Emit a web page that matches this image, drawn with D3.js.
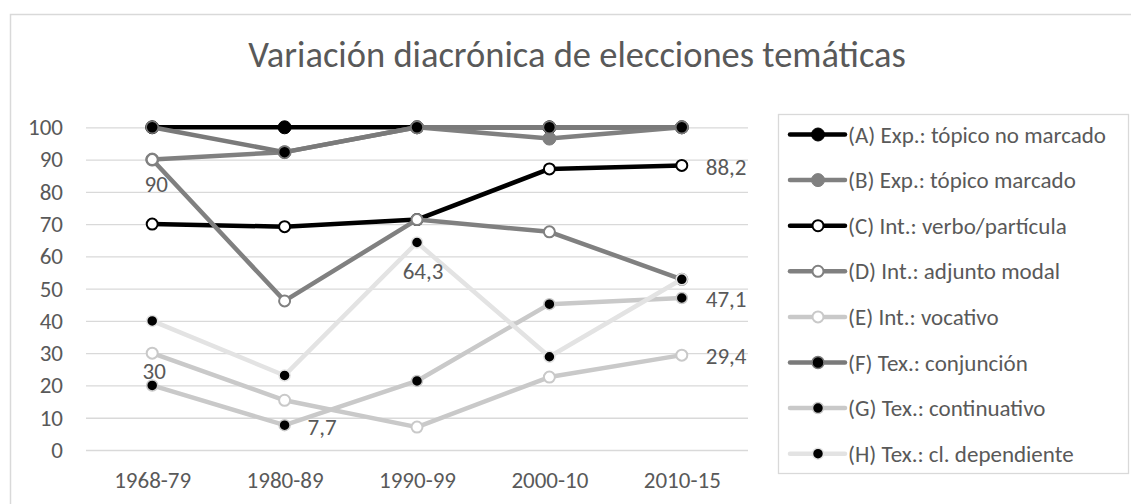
<!DOCTYPE html>
<html>
<head>
<meta charset="utf-8">
<script src="https://cdn.jsdelivr.net/npm/d3@7"></script>
<style>
  body { margin: 0; background: #fff; }
  svg { display: block; font-family: Carlito, Lato, "Liberation Sans", sans-serif; }
</style>
</head>
<body>
<svg id="chart" width="1131" height="504"></svg>
<script>
// categories and values
var categories = ["1968-79", "1980-89", "1990-99", "2000-10", "2010-15"];
var seriesNames = [
  "(A) Exp.: tópico no marcado",
  "(B) Exp.: tópico marcado",
  "(C) Int.: verbo/partícula",
  "(D) Int.: adjunto modal",
  "(E) Int.: vocativo",
  "(F) Tex.: conjunción",
  "(G) Tex.: continuativo",
  "(H) Tex.: cl. dependiente"
];
var serA = [100, 100, 100, 100, 100];
var serB = [90, 92.3, 100, 96.5, 100];
var serC = [70, 69.2, 71.4, 87.1, 88.2];
var serD = [90, 46.2, 71.4, 67.6, 52.9];
var serE = [30, 15.4, 7.1, 22.6, 29.4];
var serF = [100, 92.3, 100, 100, 100];
var serG = [20, 7.7, 21.4, 45.2, 47.1];
var serH = [40, 23.1, 64.3, 28.9, 52.9];
var yTicks = [0, 10, 20, 30, 40, 50, 60, 70, 80, 90, 100];
// data labels: series index, point index
var labelPoints = [[1, 0], [4, 0], [6, 1], [7, 2], [2, 4], [6, 4], [4, 4]];

var allSeries = [serA, serB, serC, serD, serE, serF, serG, serH];

// styling, kept apart from the values
var styles = [
  { line: "#000000", fill: "#000000", stroke: "#000000", r: 6.5, sw: 1 },
  { line: "#808080", fill: "#808080", stroke: "#808080", r: 6.5, sw: 1 },
  { line: "#000000", fill: "#ffffff", stroke: "#000000", r: 5.5, sw: 2 },
  { line: "#808080", fill: "#ffffff", stroke: "#808080", r: 5.5, sw: 2 },
  { line: "#c9c9c9", fill: "#ffffff", stroke: "#c9c9c9", r: 5.5, sw: 2 },
  { line: "#7a7a7a", fill: "#000000", stroke: "#7a7a7a", r: 6, sw: 1.5 },
  { line: "#c9c9c9", fill: "#000000", stroke: "#c9c9c9", r: 5.5, sw: 1.5 },
  { line: "#e3e3e3", fill: "#000000", stroke: "#e3e3e3", r: 5.5, sw: 1.5 }
];
var labelOffsets = [[4, 24], [2, 18], [23, 1.5], [6, 28], [24, 1.5], [24, 1], [24, 1]];
var labelAnchors = ["middle", "middle", "start", "middle", "start", "start", "start"];

var textColor = "#595959";
var gridColor = "#d9d9d9";
var fontSize = "23px";

var svg = d3.select("#chart");

// outer chart frame
svg.append("rect")
  .attr("x", 10.5).attr("y", 14.5)
  .attr("width", 1130).attr("height", 500)
  .attr("fill", "none")
  .attr("stroke", gridColor)
  .attr("stroke-width", 1.5);

svg.append("text")
  .attr("x", 577).attr("y", 67)
  .attr("text-anchor", "middle")
  .attr("font-size", "36.5px")
  .attr("font-weight", 300)
  .attr("fill", textColor)
  .text("Variación diacrónica de elecciones temáticas");

var plotLeft = 86, plotRight = 748, plotTop = 127.3, plotBottom = 450;

var x = d3.scalePoint().domain(categories).range([plotLeft, plotRight]).padding(0.5);
var y = d3.scaleLinear().domain([0, 100]).range([plotBottom, plotTop]);

var yAxis = svg.append("g")
  .attr("transform", "translate(" + plotLeft + ",0)")
  .call(d3.axisLeft(y).tickValues(yTicks).tickSize(-(plotRight - plotLeft)).tickPadding(23));
yAxis.select(".domain").remove();
yAxis.selectAll(".tick line").attr("stroke", gridColor).attr("stroke-width", 1.3);
yAxis.selectAll(".tick text")
  .attr("fill", textColor)
  .attr("font-size", fontSize)
  .attr("font-family", "Carlito, Lato, sans-serif");

var xAxis = svg.append("g")
  .attr("transform", "translate(0," + plotBottom + ")")
  .call(d3.axisBottom(x).tickSize(0).tickPadding(0));
xAxis.select(".domain").remove();
xAxis.selectAll(".tick text")
  .attr("y", 38).attr("dy", 0)
  .attr("fill", textColor)
  .attr("font-size", fontSize)
  .attr("font-family", "Carlito, Lato, sans-serif");

var line = d3.line()
  .x(function(d, i) { return x(categories[i]); })
  .y(function(d) { return y(d); });

var plot = svg.append("g");
allSeries.forEach(function(vals, s) {
  var st = styles[s];
  var g = plot.append("g").attr("class", "series");
  g.append("path")
    .datum(vals)
    .attr("d", line)
    .attr("fill", "none")
    .attr("stroke", st.line)
    .attr("stroke-width", 4.5)
    .attr("stroke-linejoin", "round")
    .attr("stroke-linecap", "round");
  g.selectAll("circle")
    .data(vals)
    .enter()
    .append("circle")
    .attr("cx", function(d, i) { return x(categories[i]); })
    .attr("cy", function(d) { return y(d); })
    .attr("r", st.r)
    .attr("fill", st.fill)
    .attr("stroke", st.stroke)
    .attr("stroke-width", st.sw);
});

// data labels
labelPoints.forEach(function(p, k) {
  var v = allSeries[p[0]][p[1]];
  svg.append("text")
    .attr("x", x(categories[p[1]]) + labelOffsets[k][0])
    .attr("y", y(v) + labelOffsets[k][1])
    .attr("dy", "0.35em")
    .attr("text-anchor", labelAnchors[k])
    .attr("font-size", fontSize)
    .attr("fill", textColor)
    .text(String(v).replace(".", ","));
});

// legend
svg.append("rect")
  .attr("x", 778.5).attr("y", 114.5)
  .attr("width", 350).attr("height", 359)
  .attr("fill", "none")
  .attr("stroke", gridColor)
  .attr("stroke-width", 1.3);

var legend = svg.append("g");
seriesNames.forEach(function(name, s) {
  var st = styles[s];
  var ly = 134.5 + s * 45.6;
  var row = legend.append("g").attr("transform", "translate(0," + ly + ")");
  row.append("line")
    .attr("x1", 790).attr("x2", 845)
    .attr("y1", 0).attr("y2", 0)
    .attr("stroke", st.line)
    .attr("stroke-width", 4.5)
    .attr("stroke-linecap", "round");
  row.append("circle")
    .attr("cx", 818).attr("cy", 0)
    .attr("r", st.r)
    .attr("fill", st.fill)
    .attr("stroke", st.stroke)
    .attr("stroke-width", st.sw);
  row.append("text")
    .attr("x", 848).attr("y", 0)
    .attr("dy", "0.35em")
    .attr("font-size", fontSize)
    .attr("fill", textColor)
    .text(name);
});
</script>
</body>
</html>
